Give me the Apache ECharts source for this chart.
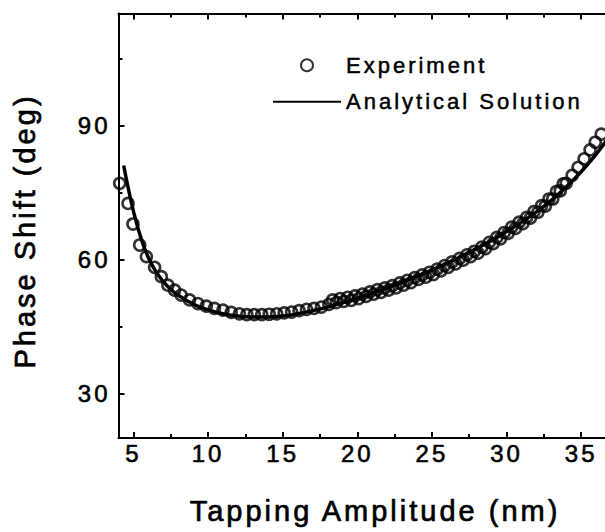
<!DOCTYPE html>
<html><head><meta charset="utf-8">
<script src="https://cdn.jsdelivr.net/npm/echarts@6/dist/echarts.min.js"></script>
<style>
html,body{margin:0;padding:0;background:#fff;}
#main{width:605px;height:532px;}
#main text{letter-spacing:3px;}
</style></head><body><div id="main"></div>
<script>
// Experiment (circles)
const expX = [4.08,4.64,4.97,5.42,5.87,6.42,6.87,7.31,7.76,8.2,8.76,9.32,9.88,10.43,11.0,11.55,12.1,12.6,13.1,13.6,14.1,14.6,15.1,15.6,16.1,16.6,17.1,17.6,
  18.1,18.35,18.6,18.85,19.1,19.35,19.6,19.85,20.1,20.35,20.6,20.85,21.1,21.35,21.6,21.85,22.1,22.35,22.6,22.85,23.1,23.35,23.6,23.85,24.1,24.35,24.6,24.85,
  25.1,25.35,25.6,25.85,26.1,26.35,26.6,26.85,27.1,27.35,27.6,27.85,28.1,28.35,28.6,28.85,29.1,29.35,29.6,29.85,30.1,30.35,30.6,30.85,31.1,31.35,31.6,31.85,
  32.1,32.35,32.6,32.85,33.1,33.35,33.6,33.8,34.0,34.4,34.8,35.2,35.6,35.95,36.35];
const expY = [77.0,72.5,67.9,63.2,60.6,58.2,56.1,54.2,53.1,52.0,50.9,50.1,49.5,49.0,48.6,48.1,47.8,47.6,47.6,47.6,47.7,47.8,48.0,48.2,48.5,48.8,49.0,49.3,
  49.9,50.9,50.3,51.2,50.6,51.5,50.8,51.8,51.2,52.2,51.7,52.7,52.2,53.2,52.6,53.6,53.1,54.1,53.6,54.7,54.2,55.3,54.8,55.9,55.5,56.5,56.0,57.1,
  56.6,57.8,57.4,58.6,58.2,59.4,59.0,60.2,59.8,61.0,60.6,61.8,61.4,62.7,62.4,63.8,63.5,64.9,64.6,66.0,65.8,67.2,66.9,68.3,68.0,69.4,69.2,70.7,
  70.5,72.0,71.9,73.5,73.5,75.2,75.3,76.9,77.0,78.8,80.6,82.5,84.5,86.2,88.0];
// Analytical solution (line)
const fitX = [4.35,4.6,5.0,5.5,6.0,6.5,7.0,7.5,8.0,9.0,10.0,11.0,12.0,13.0,14.0,15.0,16.0,17.0,18.0,19.0,20.0,21.0,22.0,23.0,24.0,25.0,26.0,27.0,28.0,29.0,30.0,31.0,32.0,33.0,34.0,35.0,36.0,36.7];
const fitY = [81,76.8,70.8,64.8,60.4,57.3,55.0,53.3,52.0,50.0,48.7,47.8,47.3,47.1,47.1,47.3,47.8,48.5,49.3,50.3,51.3,52.4,53.6,54.9,56.2,57.6,59.1,60.7,62.4,64.2,66.2,68.3,70.6,73.2,76.2,79.6,83.5,86.6];
// Tick settings (major ticks carry the labels)
const xMajorStart = 5, xMinorStart = 7.5, xStep = 5;
const yMajorStart = 30, yMinorStart = 45, yStep = 30;

const FONT = 'Liberation Sans, Arial, Helvetica, sans-serif';
const chart = echarts.init(document.getElementById('main'), null, {renderer: 'svg'});

// main plot geometry
const CW = 605, CH = 532;
const L = 118.5, T = 13.6, B = 94, R = 0;
const XMIN = 4, XMAX = 36.6, YMIN = 20, YMAX = 115;
const W = CW - L - R, H = CH - T - B;
const pxPerX = W / (XMAX - XMIN), pxPerY = H / (YMAX - YMIN);
const MAJ = 6, MIN = 4; // tick lengths

const black = '#000';
const lineOn = () => ({show: true, onZero: false, lineStyle: {color: black, width: 2}});
const tickLine = () => ({show: true, showMinLine: true, showMaxLine: false, lineStyle: {color: black, width: 2}});
const labelStyle = {color: black, fontSize: 24, fontFamily: FONT, textBorderColor: black, textBorderWidth: 0.6};
const quiet = (g, min, max) => ({type: 'value', gridIndex: g, min: min, max: max,
  axisLine: {show: false}, axisTick: {show: false}, axisLabel: {show: false}, splitLine: {show: false}});

// tick strips: each tick is a split line inside a thin grid strip along an axis
function tickX(g, pos, start, labels) {
  return {
    type: 'value', gridIndex: g, position: pos, min: start, max: XMAX, interval: xStep,
    axisLine: {show: false, onZero: false},
    axisTick: {show: false},
    axisLabel: labels ? Object.assign({show: true, margin: 3, showMaxLabel: false}, labelStyle) : {show: false},
    splitLine: tickLine()
  };
}
function tickY(g, start, labels) {
  return {
    type: 'value', gridIndex: g, position: 'left', min: start, max: YMAX, interval: yStep,
    axisLine: {show: false, onZero: false},
    axisTick: {show: false},
    axisLabel: labels ? Object.assign({show: true, margin: 8, showMaxLabel: false}, labelStyle) : {show: false},
    splitLine: tickLine()
  };
}

const grids = [
  {left: L, top: T, right: R, bottom: B},                                              // 0 main
  {left: L + (xMajorStart - XMIN) * pxPerX, right: R, top: CH - B - MAJ, bottom: B},   // 1 x major bottom
  {left: L + (xMinorStart - XMIN) * pxPerX, right: R, top: CH - B - MIN, bottom: B},   // 2 x minor bottom
  {left: L + (xMajorStart - XMIN) * pxPerX, right: R, top: T, bottom: CH - T - MAJ},   // 3 x major top
  {left: L + (xMinorStart - XMIN) * pxPerX, right: R, top: T, bottom: CH - T - MIN},   // 4 x minor top
  {left: L, right: CW - L - MAJ, top: T, bottom: B + (yMajorStart - YMIN) * pxPerY},   // 5 y major left
  {left: L, right: CW - L - MIN, top: T, bottom: B + (yMinorStart - YMIN) * pxPerY}    // 6 y minor left
];

chart.setOption({
  animation: false,
  backgroundColor: '#fff',
  grid: grids,
  xAxis: [
    {type: 'value', gridIndex: 0, position: 'bottom', min: XMIN, max: XMAX,
      axisLine: lineOn(), axisTick: {show: false}, axisLabel: {show: false}, splitLine: {show: false}},
    {type: 'value', gridIndex: 0, position: 'top', min: XMIN, max: XMAX,
      axisLine: lineOn(), axisTick: {show: false}, axisLabel: {show: false}, splitLine: {show: false}},
    tickX(1, 'bottom', xMajorStart, true),
    tickX(2, 'bottom', xMinorStart, false),
    tickX(3, 'top', xMajorStart, false),
    tickX(4, 'top', xMinorStart, false),
    quiet(5, 0, 1),
    quiet(6, 0, 1)
  ],
  yAxis: [
    {type: 'value', gridIndex: 0, position: 'left', min: YMIN, max: YMAX,
      axisLine: lineOn(), axisTick: {show: false}, axisLabel: {show: false}, splitLine: {show: false}},
    quiet(1, 0, 1),
    quiet(2, 0, 1),
    quiet(3, 0, 1),
    quiet(4, 0, 1),
    tickY(5, yMajorStart, true),
    tickY(6, yMinorStart, false)
  ],
  legend: {
    orient: 'vertical', left: 272, top: 54, padding: 0,
    itemWidth: 68, itemHeight: 12, itemGap: 14,
    textStyle: {color: black, fontSize: 22, fontFamily: FONT, textBorderColor: black, textBorderWidth: 0.5},
    data: [
      {name: 'Experiment'},
      {name: 'Analytical Solution', itemStyle: {color: 'rgba(0,0,0,0)', borderWidth: 0, opacity: 0}}
    ]
  },
  graphic: [
    {type: 'text', x: 375, y: 511, style: {text: 'Tapping Amplitude (nm)', fill: black, font: '29px ' + FONT, textAlign: 'center', textVerticalAlign: 'middle', stroke: black, lineWidth: 0.7}},
    {type: 'text', x: 25, y: 231, rotation: Math.PI / 2, style: {text: 'Phase Shift (deg)', fill: black, font: '29px ' + FONT, textAlign: 'center', textVerticalAlign: 'middle', stroke: black, lineWidth: 0.7}}
  ],
  series: [
    {
      name: 'Experiment', type: 'scatter', xAxisIndex: 0, yAxisIndex: 0,
      symbol: 'circle', symbolSize: 11,
      itemStyle: {color: 'rgba(255,255,255,0)', borderColor: black, borderWidth: 2.6},
      data: expX.map((x, i) => [x, expY[i]]),
      z: 2
    },
    {
      name: 'Analytical Solution', type: 'line', xAxisIndex: 0, yAxisIndex: 0,
      smooth: true, symbol: 'none', showSymbol: false,
      lineStyle: {color: black, width: 3.5},
      itemStyle: {color: black},
      data: fitX.map((x, i) => [x, fitY[i]]),
      z: 3
    }
  ]
});
</script></body></html>
